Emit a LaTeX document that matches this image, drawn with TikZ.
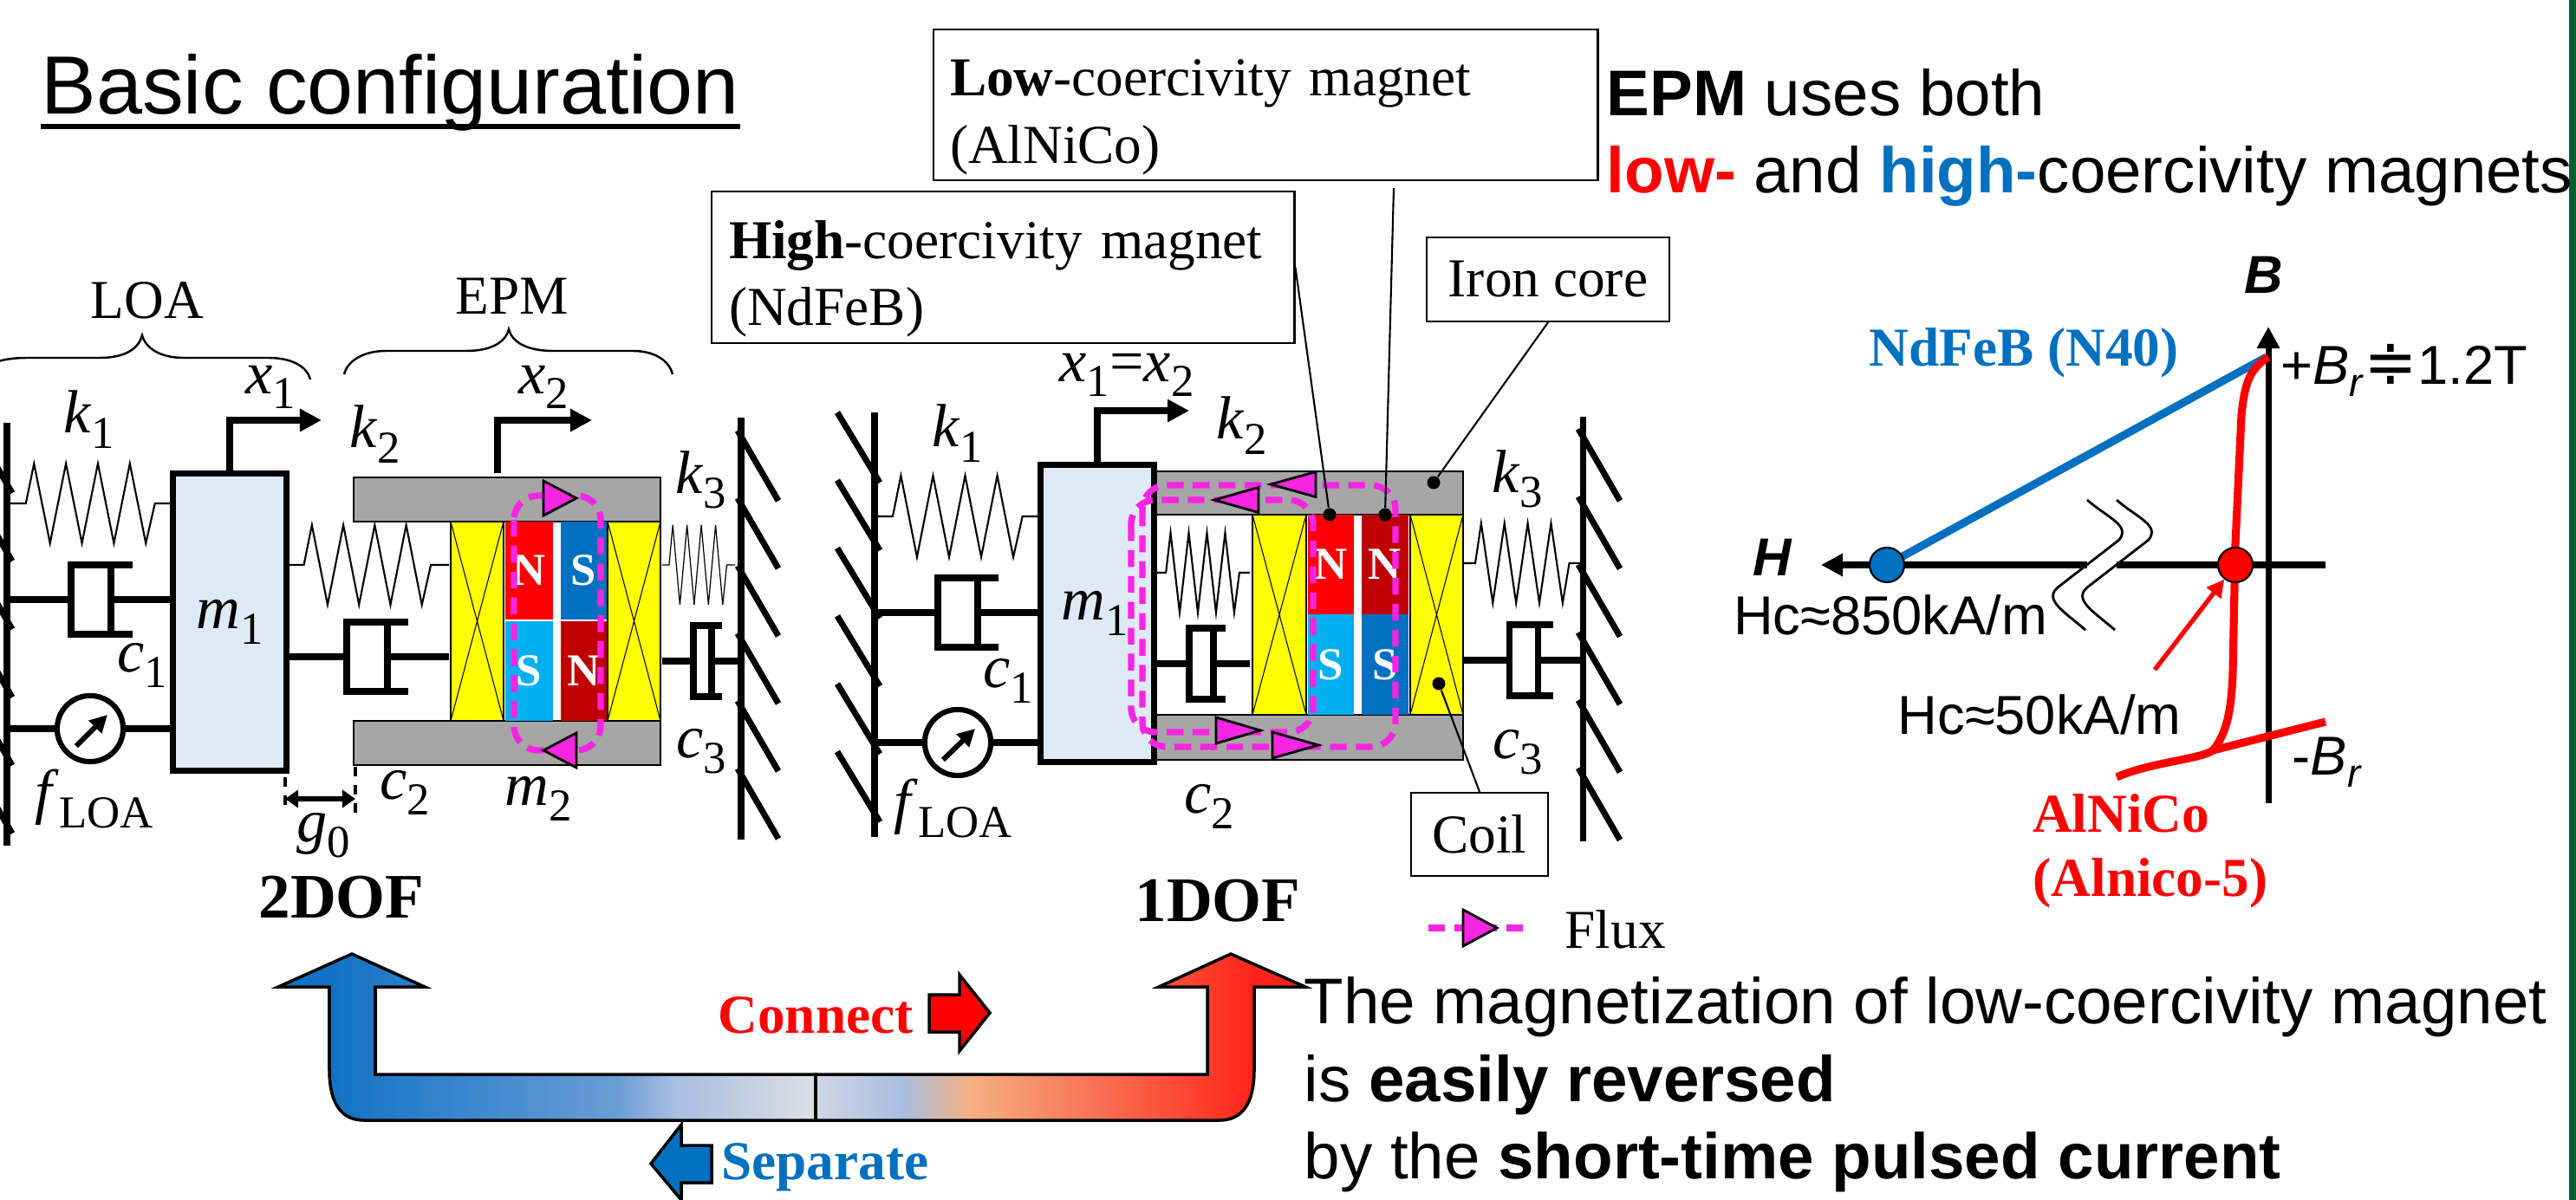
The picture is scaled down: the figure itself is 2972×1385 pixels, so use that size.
\documentclass[tikz,border=0pt]{standalone}
\usepackage{fontspec}
\setmainfont{Liberation Serif}
\setsansfont{Liberation Sans}
\newfontfamily\symfont{DejaVu Sans}
\usetikzlibrary{arrows.meta,calc}
\definecolor{massblue}{HTML}{DEEAF6}
\definecolor{irongray}{HTML}{A6A6A6}
\definecolor{coilyellow}{HTML}{FFFF00}
\definecolor{epmred}{HTML}{FF0000}
\definecolor{epmdark}{HTML}{C00000}
\definecolor{epmblue}{HTML}{0070C0}
\definecolor{epmcyan}{HTML}{00B0F0}
\definecolor{fluxpink}{HTML}{F625E2}
\definecolor{stripgreen}{HTML}{00602F}
\definecolor{shadea}{HTML}{1072C4}
\definecolor{shadeb}{HTML}{6A9DD6}
\definecolor{shadec}{HTML}{A8BDE0}
\definecolor{shaded}{HTML}{DEE0E5}
\definecolor{shadee}{HTML}{D0D6E6}
\definecolor{shadef}{HTML}{F4B183}
\definecolor{shadeg}{HTML}{FF2418}
\pgfdeclarehorizontalshading{sepshade}{100bp}{color(0bp)=(shadea); color(29.8bp)=(shadea); color(56.5bp)=(shadeb); color(61.8bp)=(shadec); color(75bp)=(shaded); color(100bp)=(shaded)}
\pgfdeclarehorizontalshading{conshade}{100bp}{color(0bp)=(shadee); color(25bp)=(shadee); color(34bp)=(shadec); color(40.6bp)=(shadef); color(69.8bp)=(shadeg); color(100bp)=(shadeg)}
\tikzset{
  rodline/.style={line width=2pt},
  springline/.style={line width=0.6pt},
  massbox/.style={draw,line width=2pt,fill=massblue,inner sep=0pt},
  ironbar/.style={draw,line width=0.6pt,fill=irongray},
  coilbox/.style={draw,line width=0.6pt,fill=coilyellow},
  magnet/.style={inner sep=0pt,text=white,font=\fontsize{15}{15}\selectfont\bfseries},
  fluxline/.style={draw=fluxpink,line width=2.1pt,dash pattern=on 5.5pt off 3pt,rounded corners=0.28cm},
  fluxtip/.style={draw,line width=0.8pt,fill=fluxpink},
  meter/.style={draw,circle,fill=white,line width=1.7pt,minimum size=0.76cm,inner sep=0pt},
  sym/.style={inner sep=0pt,font=\fontsize{20}{20}\selectfont},
  labelbox/.style={draw,line width=0.6pt,fill=white,inner sep=0pt,font=\fontsize{18}{22}\selectfont},
  leader/.style={line width=0.6pt},
  leaderdot/.style={fill,circle,inner sep=0pt,minimum size=0.15cm},
  bigtext/.style={inner sep=0pt,anchor=base west,font=\sffamily\fontsize{21.2}{25}\selectfont},
  graphtext/.style={inner sep=0pt,font=\sffamily\fontsize{18}{18}\selectfont},
  serifhead/.style={inner sep=0pt,font=\fontsize{18}{18}\selectfont\bfseries},
  bigarrow/.style={draw,line width=1pt,line join=miter},
}
\newcommand{\vsub}[2]{\textit{#1}\raisebox{-5pt}{\fontsize{15}{15}\selectfont #2}}
\newcommand{\myspring}[5][springline]{%
  \pgfmathsetmacro{\sw}{#3-#2}
  \draw[#1] (#2,#4) -- ({#2+.095*\sw},#4)
    \foreach \i in {0,...,7}{ -- ({#2+(.145+.098*\i)*\sw},{#4+(-1)^(\i+1)*#5}) }
    -- ({#2+.887*\sw},#4) -- (#3,#4);
}
\newcommand{\mydamper}[7]{%
  \draw[rodline] (#1,#6) -- (#2,#6);
  \draw[rodline] (#4,{#6-#7}) -- (#2,{#6-#7}) -- (#2,{#6+#7}) -- (#4,{#6+#7});
  \draw[rodline] (#3,{#6-#7}) -- (#3,{#6+#7});
  \draw[rodline] (#3,#6) -- (#5,#6);
}
\newcommand{\fluxmark}[4]{\draw[fluxtip] (#1,{#2-#4/2}) -- (#1,{#2+#4/2}) -- ({#1+#3},#2) -- cycle;}
\newcommand{\coilx}[4]{%
  \draw[coilbox] (#1,#2) rectangle (#3,#4);
  \draw[line width=0.3pt] (#1,#2) -- (#3,#4) (#1,#4) -- (#3,#2);
}
\begin{document}
\begin{tikzpicture}[x=0.01cm,y=-0.01cm]
\clip (0,0) rectangle (2972,1385);
\fill[white] (0,0) rectangle (2972,1385);
\fill[stripgreen] (2964,0) rectangle (2972,1385);

% title and texts
\node[inner sep=0pt,anchor=base west,font=\sffamily\fontsize{27.1}{30}\selectfont] (title) at (47,132) {Basic configuration};
\draw[line width=1.7pt] ($(title.base west)+(0,14)$) -- ($(title.base east)+(0,14)$);
\node[bigtext] (epmtext) at (1853,134) {\textbf{EPM} uses both};
\node[bigtext] (lowtext) at (1853,223) {\textcolor{epmred}{\textbf{low-}} and \textcolor{epmblue}{\textbf{high-}}coercivity magnets};
\node[bigtext] (magtexta) at (1504,1181) {The magnetization of low-coercivity magnet};
\node[bigtext] (magtextb) at (1504,1271) {is \textbf{easily reversed}};
\node[bigtext] (magtextc) at (1504,1360) {by the \textbf{short-time pulsed current}};

% 2DOF
\draw[rodline] (8,488) -- (8,976);
\foreach \i in {0,...,5} \draw[rodline] (-33,{488+78.6*\i}) -- ++(47,81);
\draw[rodline] (855,482) -- (855,969);
\foreach \i in {0,...,5} \draw[rodline] (851,{497+78*\i}) -- ++(47,81);
\draw[line width=0.7pt] (-30,438) .. controls (-26,422) and (0,413) .. (30,413) -- (115,413) .. controls (145,413) and (160,402) .. (164,387) .. controls (168,402) and (185,413) .. (212,413) -- (310,413) .. controls (335,413) and (354,422) .. (358,438);
\draw[line width=0.7pt] (397,432) .. controls (401,416) and (420,405) .. (445,405) -- (538,405) .. controls (565,405) and (583,396) .. (587,380) .. controls (591,396) and (610,405) .. (638,405) -- (730,405) .. controls (755,405) and (772,416) .. (776,432);
\node[sym,font=\fontsize{18}{18}\selectfont] (loalabel) at (170,347) {LOA};
\node[sym,font=\fontsize{18}{18}\selectfont] (epmlabel) at (591,342) {EPM};
\myspring{12}{200}{581}{46}
\mydamper{12}{82}{128}{153}{200}{692}{40}
\node[meter] (metera) at (104,841) {};
\node[massbox,minimum width=1.30cm,minimum height=3.43cm] (massa) at (265,718) {};
\draw[rodline] (8,841) -- (metera) -- (massa.west|-metera);
\node[meter] at (metera) {};
\draw[line width=1.7pt,-{Triangle[length=0.2cm,width=0.2cm]}] (88,861) -- (124,825);
\draw[rodline,-{Triangle[length=0.25cm,width=0.25cm]}] (massa.north) -- (265,485) -- (371,485);
\myspring{333}{518}{652}{46}
\mydamper{333}{400}{447}{471}{518}{758}{40}
\myspring[line width=0.35pt]{764}{848}{652}{46}
\mydamper{764}{800}{821}{833}{854}{763}{41}
\draw[ironbar] (408,551) rectangle (762,602);
\draw[ironbar] (408,832) rectangle (762,883);
\draw[rodline,-{Triangle[length=0.25cm,width=0.25cm]}] (574,546) -- (574,485) -- (683,485);
\coilx{520}{602}{581}{832}
\coilx{701}{602}{762}{832}
\node[magnet,fill=epmred,minimum width=0.55cm,minimum height=1.13cm] (na) at (610.5,658.5) {N};
\node[magnet,fill=epmcyan,minimum width=0.55cm,minimum height=1.15cm] (sa) at (610.5,774.5) {S};
\node[magnet,fill=epmblue,minimum width=0.53cm,minimum height=1.13cm] (sb) at (673.5,658.5) {S};
\node[magnet,fill=epmdark,minimum width=0.53cm,minimum height=1.15cm] (nb) at (673.5,774.5) {N};
\draw[fluxline] (593,572) rectangle (693,866);
\fluxmark{627}{575}{38}{40}
\fluxmark{665}{866}{-38}{40}
\draw[line width=1.2pt,dashed] (329,897) -- (329,937) (410,885) -- (410,939);
\draw[line width=1.8pt,{Triangle[length=0.15cm,width=0.2cm]}-{Triangle[length=0.15cm,width=0.2cm]}] (329,922) -- (410,922);
\node[sym] (xa) at (312,447) {\vsub{x}{1}};
\node[sym] (xb) at (627,447) {\vsub{x}{2}};
\node[sym] (ka) at (103,484) {\vsub{k}{1}};
\node[sym] (kb) at (433,501) {\vsub{k}{2}};
\node[sym] (kc) at (809,554) {\vsub{k}{3}};
\node[sym] (ca) at (164,768) {\vsub{c}{1}};
\node[sym] (cb) at (467,915) {\vsub{c}{2}};
\node[sym] (cc) at (809,867) {\vsub{c}{3}};
\node[sym] (ma) at (massa) {\vsub{m}{1}};
\node[sym] (mb) at (621,922) {\vsub{m}{2}};
\node[sym] (fa) at (109,922) {\vsub{f}{LOA}};
\node[sym] (ga) at (373,964) {\vsub{g}{0}};
\node[inner sep=0pt,font=\fontsize{20.8}{21}\selectfont\bfseries] (twodof) at (394,1036) {2DOF};

% 1DOF
\draw[rodline] (1009,476) -- (1009,966);
\foreach \i in {0,...,5} \draw[rodline] (966,{476+78.3*\i}) -- ++(49,81);
\draw[rodline] (1826,481) -- (1826,971);
\foreach \i in {0,...,5} \draw[rodline] (1821,{495+78.3*\i}) -- ++(48,83);
\myspring{1012}{1201}{596}{47}
\mydamper{1012}{1082}{1128}{1152}{1201}{707}{40}
\node[meter] (meterb) at (1105,857) {};
\draw[ironbar] (1331,544) rectangle (1688,594);
\draw[ironbar] (1331,825) rectangle (1688,877);
\node[massbox,minimum width=1.30cm,minimum height=3.43cm] (massb) at (1266,708) {};
\draw[rodline] (1009,857) -- (meterb) -- (massb.west|-meterb);
\node[meter] at (meterb) {};
\draw[line width=1.7pt,-{Triangle[length=0.2cm,width=0.2cm]}] (1088,877) -- (1125,841);
\draw[rodline,-{Triangle[length=0.25cm,width=0.25cm]}] (massb.north) -- (1266,474) -- (1372,474);
\myspring{1335}{1442}{661}{46}
\mydamper{1331}{1372}{1400}{1414}{1442}{766}{41}
\myspring{1689}{1826}{650}{46}
\mydamper{1689}{1741}{1774}{1792}{1826}{762}{41}
\coilx{1445}{594}{1507}{825}
\coilx{1627}{594}{1688}{825}
\node[magnet,fill=epmred,minimum width=0.53cm,minimum height=1.15cm] (nc) at (1535.5,651.5) {N};
\node[magnet,fill=epmcyan,minimum width=0.53cm,minimum height=1.16cm] (sc) at (1535.5,767) {S};
\node[magnet,fill=epmdark,minimum width=0.54cm,minimum height=1.15cm] (nd) at (1598,651.5) {N};
\node[magnet,fill=epmblue,minimum width=0.54cm,minimum height=1.16cm] (sd) at (1598,767) {S};
\draw[fluxline] (1318,560) rectangle (1610,862);
\draw[fluxline] (1305,577) rectangle (1515,845);
\fluxmark{1518}{559}{-52}{29}
\fluxmark{1452}{577}{-51}{29}
\fluxmark{1403}{843}{51}{30}
\fluxmark{1468}{860}{53}{30}
\node[sym] (xc) at (1300,433) {\vsub{x}{1}=\vsub{x}{2}};
\node[sym] (kd) at (1105,500) {\vsub{k}{1}};
\node[sym] (ke) at (1433,491) {\vsub{k}{2}};
\node[sym] (kf) at (1751,553) {\vsub{k}{3}};
\node[sym] (cd) at (1163,786) {\vsub{c}{1}};
\node[sym] (ce) at (1395,931) {\vsub{c}{2}};
\node[sym] (cf) at (1751,868) {\vsub{c}{3}};
\node[sym] (mc) at ([xshift=-0.03cm]massb.center) {\vsub{m}{1}};
\node[sym] (fb) at (1100,933) {\vsub{f}{LOA}};
\node[inner sep=0pt,font=\fontsize{20.8}{21}\selectfont\bfseries] (onedof) at (1405,1040) {1DOF};

% label boxes
\node[labelbox,anchor=north west,minimum height=1.74cm,text width=7.28cm,inner xsep=0.19cm,align=left] (lowbox) at (1076,33) {\rule{0pt}{20pt}\textbf{Low}-coercivity magnet\\(AlNiCo)};
\node[labelbox,anchor=north west,minimum height=1.75cm,text width=6.32cm,inner xsep=0.20cm,align=left] (highbox) at (820,220) {\rule{0pt}{20pt}\textbf{High}-coercivity magnet\\(NdFeB)};
\node[labelbox,minimum width=2.80cm,minimum height=0.97cm] (ironbox) at (1786,322.5) {Iron core};
\node[labelbox,minimum width=1.58cm,minimum height=0.96cm] (coillabel) at (1707,963) {Coil};
\node[leaderdot] (dothigh) at (1534,594) {};
\node[leaderdot] (dotlow) at (1598,594) {};
\node[leaderdot] (dotiron) at (1654,557) {};
\node[leaderdot] (dotcoil) at (1660,789) {};
\coordinate (lowend) at (1608,217);
\draw[leader] (highbox.east) -- (dothigh);
\draw[leader] (lowend) -- (dotlow);
\draw[leader] (ironbox.south) -- (dotiron);
\draw[leader] (coillabel.north) -- (dotcoil);
\draw[fluxline] (1648,1071) -- (1763,1071);
\fluxmark{1688}{1071}{39}{42}
\node[inner sep=0pt,anchor=west,font=\fontsize{18}{18}\selectfont] (fluxlabel) at (1805,1073) {Flux};

% BH graph
\draw[rodline,-{Triangle[length=0.25cm,width=0.25cm]}] (2617,927) -- (2617,377);
\draw[rodline] (2683,652) -- (2442,652);
\draw[rodline,-{Triangle[length=0.25cm,width=0.25cm]}] (2408,652) -- (2101,652);
\draw[line width=0.8pt] (2408,577) .. controls (2432,598) and (2458,606) .. (2445,623) -- (2374,678) .. controls (2358,692) and (2380,705) .. (2406,727);
\draw[line width=0.8pt] (2442,577) .. controls (2466,598) and (2492,606) .. (2479,623) -- (2408,678) .. controls (2392,692) and (2414,705) .. (2440,727);
\draw[epmblue,line width=2.6pt] (2177,652) -- (2615,412);
\draw[epmred,line width=2.6pt] (2617,412) .. controls (2596,426) and (2590,440) .. (2586,479) -- (2579,628) -- (2576,777) .. controls (2574,830) and (2566,850) .. (2553,866);
\draw[epmred,line width=2.6pt] (2442,897) .. controls (2480,880) and (2540,876) .. (2553,866) -- (2683,833);
\node[draw,circle,fill=epmblue,line width=0.6pt,minimum size=0.40cm,inner sep=0pt] (hcblue) at (2177,652) {};
\node[draw,circle,fill=epmred,line width=0.6pt,minimum size=0.40cm,inner sep=0pt] (hcred) at (2579,652) {};
\coordinate (hcredend) at (2486,773);
\draw[epmred,line width=1.5pt,-{Triangle[length=0.2cm,width=0.2cm]}] (hcredend) -- (hcred);
\node[graphtext,font=\sffamily\fontsize{17.5}{18}\selectfont\bfseries\itshape] (blabel) at (2612,317) {B};
\node[graphtext,font=\sffamily\fontsize{17.5}{18}\selectfont\bfseries\itshape] (hlabel) at (2045,643) {H};
\node[serifhead,text=epmblue] (ndlabel) at (2335,407) {NdFeB (N40)};
\node[graphtext,anchor=west] (brplus) at (2631,427) {+\textit{B}\raisebox{-4pt}{\fontsize{13}{13}\selectfont\textit{r}}{\symfont\fontsize{21}{21}\selectfont ≑}1.2T};
\node[graphtext,anchor=west] (brminus) at (2644,880) {-\textit{B}\raisebox{-4pt}{\fontsize{13}{13}\selectfont\textit{r}}};
\node[graphtext] (hchigh) at (2181,710) {Hc≈850kA/m};
\node[graphtext] (hclow) at (2353,825) {Hc≈50kA/m};
\node[serifhead,text=epmred] (allabel) at (2447,939) {AlNiCo};
\node[serifhead,text=epmred] (allabelb) at (2481,1019) {(Alnico-5)};

% big U arrow
\draw[bigarrow,shading=sepshade] (406,1101) -- (490,1139) -- (433,1139) -- (433,1240) -- (941,1240) -- (941,1293) -- (420,1293) .. controls (395,1293) and (380,1275) .. (380,1235) -- (380,1139) -- (321,1139) -- cycle;
\draw[bigarrow,shading=conshade] (941,1240) -- (1393,1240) -- (1393,1139) -- (1337,1139) -- (1420,1101) -- (1506,1139) -- (1447,1139) -- (1447,1235) .. controls (1447,1275) and (1432,1293) .. (1407,1293) -- (941,1293) -- cycle;
\draw[bigarrow,fill=epmred] (1072,1148) -- (1107,1148) -- (1107,1125) -- (1142,1169) -- (1107,1213) -- (1107,1191) -- (1072,1191) -- cycle;
\draw[bigarrow,fill=epmblue] (751,1343) -- (786,1298) -- (786,1322) -- (821,1322) -- (821,1365) -- (786,1365) -- (786,1385) -- cycle;
\node[serifhead,text=epmred] (connectlabel) at (941,1172) {Connect};
\node[serifhead,text=epmblue] (separatelabel) at (952,1347) {Separate};
\end{tikzpicture}
\end{document}
